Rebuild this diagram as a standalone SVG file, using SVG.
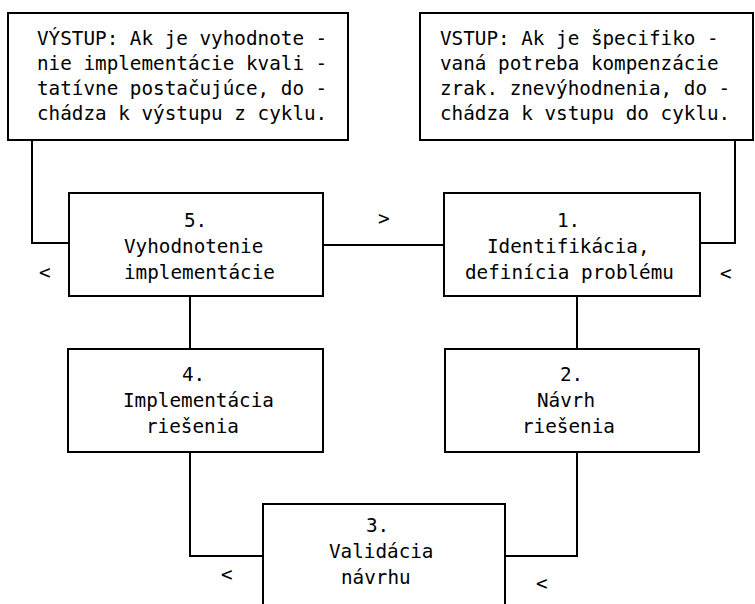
<svg xmlns="http://www.w3.org/2000/svg" width="755" height="604" viewBox="0 0 755 604">
<style>
.box{fill:#fff;stroke:#000;stroke-width:2}
.t{font-family:"DejaVu Sans Mono","Liberation Mono",monospace;font-size:19.3px;fill:#000}
.c{fill:none;stroke:#000;stroke-width:2}
</style>
<rect width="755" height="604" fill="#fff"/>
<g id="connectors">
<polyline class="c" points="32,140 32,243 69,243"/>
<line class="c" x1="323" y1="245" x2="444" y2="245"/>
<polyline class="c" points="700,243 735,243 735,140"/>
<line class="c" x1="190" y1="296" x2="190" y2="349"/>
<line class="c" x1="577" y1="296" x2="577" y2="349"/>
<polyline class="c" points="190,452 190,556 263,556"/>
<polyline class="c" points="577,452 577,556 505,556"/>
<text class="t" x="378" y="225">&gt;</text>
<text class="t" x="39" y="279">&lt;</text>
<text class="t" x="720" y="280">&lt;</text>
<text class="t" x="221" y="581">&lt;</text>
<text class="t" x="536" y="590">&lt;</text>
</g>
<g id="vystup">
<rect class="box" x="8" y="13" width="340" height="127"/>
<text class="t" x="37" y="45">VÝSTUP: Ak je vyhodnote -</text>
<text class="t" x="37" y="70">nie implementácie kvali -</text>
<text class="t" x="37" y="95">tatívne postačujúce, do -</text>
<text class="t" x="37" y="120">chádza k výstupu z cyklu.</text>
</g>
<g id="vstup">
<rect class="box" x="420" y="13" width="333" height="127"/>
<text class="t" x="440" y="45">VSTUP: Ak je špecifiko -</text>
<text class="t" x="440" y="70">vaná potreba kompenzácie</text>
<text class="t" x="440" y="95">zrak. znevýhodnenia, do -</text>
<text class="t" x="440" y="120">chádza k vstupu do cyklu.</text>
</g>
<g id="n5">
<rect class="box" x="69" y="193" width="254" height="103"/>
<text class="t" x="184" y="227">5.</text>
<text class="t" x="124" y="253">Vyhodnotenie</text>
<text class="t" x="124" y="279">implementácie</text>
</g>
<g id="n1">
<rect class="box" x="444" y="193" width="256" height="103"/>
<text class="t" x="557" y="227">1.</text>
<text class="t" x="487" y="253">Identifikácia,</text>
<text class="t" x="465" y="279">definícia problému</text>
</g>
<g id="n4">
<rect class="box" x="68" y="349" width="255" height="103"/>
<text class="t" x="182" y="381">4.</text>
<text class="t" x="123" y="407">Implementácia</text>
<text class="t" x="146" y="433">riešenia</text>
</g>
<g id="n2">
<rect class="box" x="445" y="349" width="254" height="103"/>
<text class="t" x="560" y="381">2.</text>
<text class="t" x="537" y="407">Návrh</text>
<text class="t" x="522" y="433">riešenia</text>
</g>
<g id="n3">
<rect class="box" x="263" y="504" width="242" height="120"/>
<text class="t" x="366" y="532">3.</text>
<text class="t" x="329" y="558">Validácia</text>
<text class="t" x="341" y="584">návrhu</text>
</g>
</svg>
